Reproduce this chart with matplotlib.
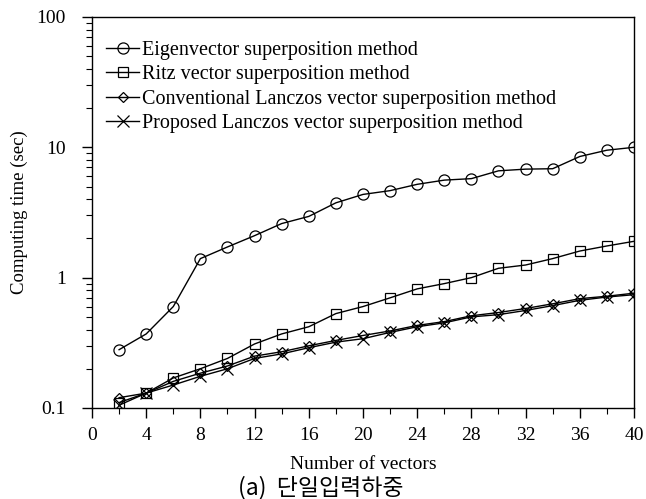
import matplotlib.pyplot as plt
from matplotlib.ticker import FixedLocator, LogLocator, NullFormatter, FixedFormatter

# number of vectors
n_vec = [2, 4, 6, 8, 10, 12, 14, 16, 18, 20, 22, 24, 26, 28, 30, 32, 34, 36, 38, 40]

# computing time (sec)
eigen = [0.28, 0.37, 0.60, 1.40, 1.72, 2.10, 2.60, 2.95, 3.75, 4.35,
         4.65, 5.20, 5.60, 5.75, 6.60, 6.80, 6.85, 8.50, 9.50, 10.0]
ritz = [0.11, 0.13, 0.17, 0.20, 0.24, 0.31, 0.37, 0.42, 0.53, 0.60,
        0.70, 0.82, 0.90, 1.00, 1.18, 1.25, 1.40, 1.60, 1.75, 1.90]
conv = [0.12, 0.13, 0.16, 0.185, 0.21, 0.25, 0.27, 0.30, 0.33, 0.36,
        0.39, 0.43, 0.46, 0.51, 0.54, 0.58, 0.63, 0.69, 0.72, 0.76]
prop = [0.105, 0.13, 0.15, 0.175, 0.20, 0.24, 0.26, 0.29, 0.32, 0.34,
        0.38, 0.42, 0.45, 0.50, 0.52, 0.56, 0.61, 0.67, 0.71, 0.74]

labels = ["Eigenvector superposition method",
          "Ritz vector superposition method",
          "Conventional Lanczos vector superposition method",
          "Proposed Lanczos vector superposition method"]

plt.rcParams['font.family'] = ['Liberation Serif', 'DejaVu Serif']

fig = plt.figure(figsize=(6.46, 4.99), dpi=100)
ax = fig.add_axes([0.1424, 0.1824, 0.839, 0.7836])

common = dict(color='black', lw=1.0, markerfacecolor='none', markeredgecolor='black', markeredgewidth=0.9)
ax.plot(n_vec, eigen, marker='o', ms=8, label=labels[0], **common)
ax.plot(n_vec, ritz, marker='s', ms=7.5, label=labels[1], **common)
ax.plot(n_vec, conv, marker='D', ms=5.5, label=labels[2], **common)
ax.plot(n_vec, prop, marker='x', ms=8, label=labels[3], **common)

ax.set_yscale('log')
ax.set_ylim(0.1, 100)
ax.set_xlim(0, 40)
ax.xaxis.set_major_locator(FixedLocator(range(0, 41, 4)))
ax.xaxis.set_minor_locator(FixedLocator(range(2, 41, 4)))
ax.yaxis.set_major_locator(FixedLocator([0.1, 1, 10, 100]))
ax.yaxis.set_major_formatter(FixedFormatter(['0.1', '1', '10', '100']))
ax.yaxis.set_minor_locator(LogLocator(base=10, subs=range(2, 10)))
ax.yaxis.set_minor_formatter(NullFormatter())

ax.tick_params(axis='both', which='major', direction='out', length=7, width=1, labelsize=14)
ax.tick_params(axis='y', which='major', pad=12)
ax.tick_params(axis='x', which='major', pad=7)
ax.tick_params(axis='both', which='minor', direction='out', length=4, width=0.8)
for s in ax.spines.values():
    s.set_linewidth(1.0)

ax.set_ylabel("Computing time (sec)", fontsize=13.5, labelpad=6)
ax.set_xlabel("Number of vectors", fontsize=14, labelpad=8)

leg = ax.legend(loc='upper left', frameon=False, fontsize=14.5, handlelength=1.65,
                handletextpad=0.15, labelspacing=0.26, borderaxespad=0.3,
                bbox_to_anchor=(0.0, 0.975))
fig.text(0.497, 0.0, "(a)  단일입력하중", ha='center', va='bottom', fontsize=16.5,
         family=['Noto Sans CJK KR', 'DejaVu Sans'])

fig.savefig("out.png", dpi=100)
